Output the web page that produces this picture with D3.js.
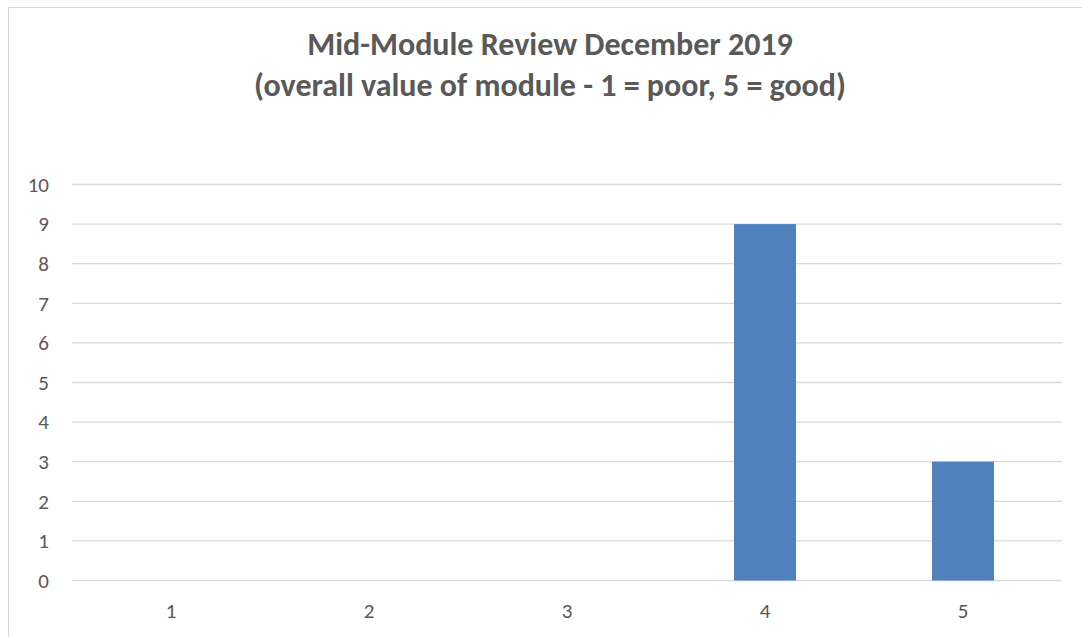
<!DOCTYPE html>
<html><head><meta charset="utf-8">
<script src="https://cdn.jsdelivr.net/npm/d3@7"></script>
<style>body{margin:0;background:#fff}svg{display:block}</style>
</head><body>
<svg id="c" width="1082" height="637"></svg>
<script>
const categories = ["1","2","3","4","5"];
const values = [0,0,0,9,3];
const yTicks = [0,1,2,3,4,5,6,7,8,9,10];
const titleLines = ["Mid-Module Review December 2019","(overall value of module - 1 = poor, 5 = good)"];

const svg = d3.select("#c");
const font = "Carlito, Calibri, 'Open Sans', sans-serif";
svg.append("rect").attr("x",8.5).attr("y",7.5).attr("width",1090).attr("height",640)
  .attr("fill","#fff").attr("stroke","#d9d9d9");

const x = d3.scaleBand().domain(categories).range([72,1062]).padding(0);
const y = d3.scaleLinear().domain([0,10]).range([580.5,184.5]);

svg.append("g").selectAll("line").data(yTicks).join("line")
  .attr("x1",72).attr("x2",1062).attr("y1",d=>y(d)).attr("y2",d=>y(d))
  .attr("stroke","#d9d9d9").attr("stroke-width",1.3);

svg.append("g").selectAll("text").data(yTicks).join("text")
  .attr("x",49).attr("y",d=>y(d)).attr("dy","0.35em").attr("text-anchor","end")
  .attr("font-family",font).attr("font-size",21).attr("fill","#595959").text(d=>d);

const bw = x.bandwidth()*0.313;
svg.append("g").selectAll("rect").data(values).join("rect")
  .attr("x",(d,i)=>x(categories[i])+x.bandwidth()/2-bw/2)
  .attr("width",bw)
  .attr("y",d=>y(d)).attr("height",d=>y(0)-y(d))
  .attr("fill","#4f81bd");

svg.append("g").selectAll("text").data(categories).join("text")
  .attr("x",d=>x(d)+x.bandwidth()/2).attr("y",618).attr("text-anchor","middle")
  .attr("font-family",font).attr("font-size",21).attr("fill","#595959").text(d=>d);

svg.append("g").selectAll("text").data(titleLines).join("text")
  .attr("x",550).attr("y",(d,i)=>55+i*41).attr("text-anchor","middle")
  .attr("font-family",font).attr("font-weight","bold").attr("font-size",32).attr("fill","#595959").text(d=>d);
</script>
</body></html>
